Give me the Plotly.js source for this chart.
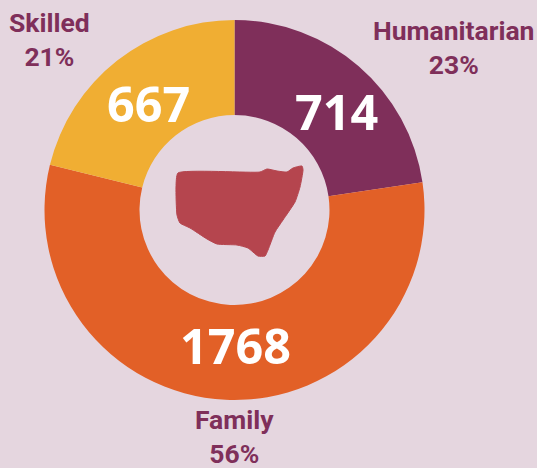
<!DOCTYPE html>
<html>
<head>
<meta charset="utf-8">
<script src="https://cdn.plot.ly/plotly-3.0.1.min.js"></script>
<style>html,body{margin:0;padding:0;background:#e5d6df;overflow:hidden}</style>
</head>
<body>
<div id="chart" style="width:537px;height:468px"></div>
<script>
const categories = ['Humanitarian', 'Family', 'Skilled'];
const values = [714, 1768, 667];
const shares = ['23%', '56%', '21%'];
const sliceColors = ['#7f2f5a', '#e26027', '#f0ae33'];
const mapX = [178,260,267,277,287,293,302,303,300,295,283,275,268,265,258,248,237,217,207,190,180,177,176,178];
const mapY = [173,172,169,171,172,168,166,170,187,202,220,232,250,256,256,248,245,244,239,228,223,215,187,173];
const valueX = [336, 235, 148];
const valueY = [111, 345, 103];
const labelX = [453, 234, 49];
const labelY = [47, 436, 39];

const annotations = [];
categories.forEach((c, i) => {
  annotations.push({
    x: valueX[i], y: valueY[i], xref: 'x', yref: 'y', showarrow: false,
    text: String(values[i]),
    font: {family: 'Open Sans', size: 48.5, color: '#ffffff', weight: 700}
  });
  annotations.push({
    x: labelX[i], y: labelY[i], xref: 'x', yref: 'y', showarrow: false, align: 'center',
    text: '<b>' + c + '</b><br><b>' + shares[i] + '</b>',
    font: {family: 'Roboto', size: 26.5, color: '#7f2f5a'}
  });
});

Plotly.newPlot('chart', [
  {
    type: 'scatter', mode: 'lines', x: mapX, y: mapY, fill: 'toself',
    fillcolor: '#b5454e', line: {color: '#b5454e', width: 1, shape: 'spline', smoothing: 0.5},
    hoverinfo: 'skip', showlegend: false
  },
  {
    type: 'pie', labels: categories, values: values, hole: 0.5, sort: false,
    direction: 'clockwise', rotation: 0, textinfo: 'none',
    marker: {colors: sliceColors, line: {width: 0}},
    domain: {x: [44.5 / 537, 424.5 / 537], y: [68 / 468, 448 / 468]},
    showlegend: false
  }
], {
  width: 537, height: 468,
  margin: {l: 0, r: 0, t: 0, b: 0},
  paper_bgcolor: '#e5d6df', plot_bgcolor: '#e5d6df',
  xaxis: {range: [0, 537], visible: false, fixedrange: true},
  yaxis: {range: [468, 0], visible: false, fixedrange: true},
  annotations: annotations,
  showlegend: false
}, {displayModeBar: false, staticPlot: true});
</script>
</body>
</html>
